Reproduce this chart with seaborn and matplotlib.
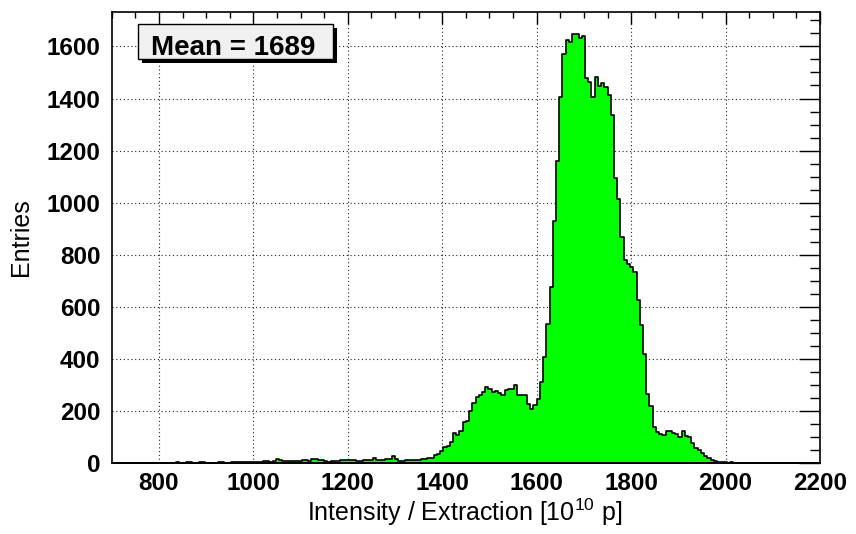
import numpy as np
import pandas as pd
import matplotlib
matplotlib.use("Agg")
import matplotlib.pyplot as plt
from matplotlib.patches import Rectangle
from matplotlib.ticker import MultipleLocator
import seaborn as sns

# Histogram binning: equal-width bins over the axis range
x_min, x_max, n_bins = 700.0, 2200.0, 220

# Bin contents, left to right
counts_low = [0, 0, 0, 0, 0, 0, 0, 0, 0, 0,
              0, 0, 0, 0, 0, 0, 0, 0, 0, 0,
              2, 0, 0, 1, 2, 0, 0, 1, 2, 0,
              0, 0, 0, 2, 2, 0, 0, 1, 2, 3,
              2, 3, 2, 3]
counts_mid = [3, 3, 4, 8, 8, 4, 5, 13, 12, 6,
              5, 5, 8, 8, 6, 10, 9, 6, 16, 14,
              9, 9, 5, 4, 5, 8, 8, 9, 9, 9,
              9, 9, 5, 5, 9, 9, 9, 20, 12, 12,
              12, 15, 15, 24, 15, 5, 5, 12, 12, 12,
              12, 9, 14, 14, 17, 17, 29, 32, 44]
counts_hump = [59, 64, 81, 113, 107, 123, 155, 160, 199, 228,
               254, 260, 273, 292, 282, 273, 277, 267, 260, 280,
               282, 282, 298, 260, 260, 260, 225, 205, 222, 244]
counts_peak = [312, 405, 533, 677, 930, 1159, 1405, 1573, 1623, 1619,
               1649, 1649, 1632, 1641, 1477, 1462, 1405, 1482, 1449, 1459,
               1444, 1413, 1335, 1095, 1013, 869, 778, 765, 752, 735,
               626, 528, 416, 264, 217, 137, 119, 112]
counts_tail = [105, 122, 122, 116, 110, 100, 120, 101, 100, 77,
               55, 49, 36, 26, 17, 9, 8, 4, 4, 3,
               0, 3, 0, 0, 0, 0, 0, 0, 0, 0,
               0, 0, 0, 0, 0, 0, 0, 0, 0, 0,
               0, 0, 0, 0, 0, 0, 0, 0, 0]

x_ticks = [800, 1000, 1200, 1400, 1600, 1800, 2000, 2200]
y_ticks = [0, 200, 400, 600, 800, 1000, 1200, 1400, 1600]
mean_label = "Mean = 1689"
x_title = "Intensity / Extraction [10$^{10}$ p]"
y_title = "Entries"

counts = counts_low + counts_mid + counts_hump + counts_peak + counts_tail
assert len(counts) == n_bins

edges = np.linspace(x_min, x_max, n_bins + 1)
centers = 0.5 * (edges[:-1] + edges[1:])
df = pd.DataFrame({"intensity": centers, "entries": counts})

sns.set_theme(style="white")
plt.rcParams["font.family"] = ["Liberation Sans", "DejaVu Sans"]
plt.rcParams["mathtext.fontset"] = "custom"
plt.rcParams["mathtext.rm"] = "Liberation Sans"
plt.rcParams["mathtext.it"] = "Liberation Sans:italic"
plt.rcParams["mathtext.bf"] = "Liberation Sans:bold"
plt.rcParams["mathtext.default"] = "regular"

fig = plt.figure(figsize=(8.56, 5.34), dpi=100)
fig.patch.set_facecolor("white")
ax = fig.add_axes([0.1305, 0.1335, 0.8275, 0.8435])
ax.set_facecolor("white")

# dotted grid at the major ticks, kept beneath the filled histogram
for xv in x_ticks:
    ax.axvline(xv, color="#222222", lw=0.8, ls=(0, (1, 2.4)), zorder=0.5)
for yv in y_ticks:
    ax.axhline(yv, color="#222222", lw=0.8, ls=(0, (1, 2.4)), zorder=0.5)

sns.histplot(data=df, x="intensity", weights="entries", bins=list(edges),
             element="step", fill=True, color="#00ff00", alpha=1.0,
             edgecolor="black", linewidth=1.2, zorder=1, ax=ax)

ax.set_xlim(x_min, x_max)
ax.set_ylim(0, max(counts) * 1.05)
ax.set_xticks(x_ticks)
ax.set_yticks(y_ticks)
ax.xaxis.set_minor_locator(MultipleLocator(50))
ax.yaxis.set_minor_locator(MultipleLocator(50))
ax.set_xlabel("")
ax.set_ylabel("")

ax.tick_params(axis="both", which="both", direction="in",
               top=True, right=True, colors="black")
ax.tick_params(axis="x", which="major", length=8.8, width=1.0, pad=6.5,
               labelsize=17.5)
ax.tick_params(axis="x", which="minor", length=4.2, width=1.0)
ax.tick_params(axis="y", which="major", length=15, width=1.0, pad=8,
               labelsize=17.5)
ax.tick_params(axis="y", which="minor", length=7.5, width=1.0)
for lab in ax.get_xticklabels() + ax.get_yticklabels():
    lab.set_fontweight("bold")

for sp in ax.spines.values():
    sp.set_visible(True)
    sp.set_color("black")
    sp.set_linewidth(1.2)
    sp.set_zorder(3)

# statistics box with drop shadow
bx0, by0, bw, bh = 0.0371, 0.8963, 0.2753, 0.0777
ax.add_patch(Rectangle((bx0 + 0.0062, by0 - 0.0095), bw, bh,
                       transform=ax.transAxes, facecolor="black",
                       edgecolor="none", zorder=5))
ax.add_patch(Rectangle((bx0, by0), bw, bh, transform=ax.transAxes,
                       facecolor="#f0f0f0", edgecolor="black", lw=1.0,
                       zorder=6))
ax.text(0.1713, 0.9052, mean_label, transform=ax.transAxes,
        ha="center", va="baseline", fontsize=20, fontweight="bold",
        color="black", zorder=7)

fig.text(465 / 856, 1 - 521 / 534, x_title, ha="center", va="baseline",
         fontsize=18, color="black")
fig.text(21 / 856, 1 - 237.5 / 534, y_title, ha="center", va="center",
         rotation=90, fontsize=18, color="black")

fig.savefig("out.png", dpi=100)
